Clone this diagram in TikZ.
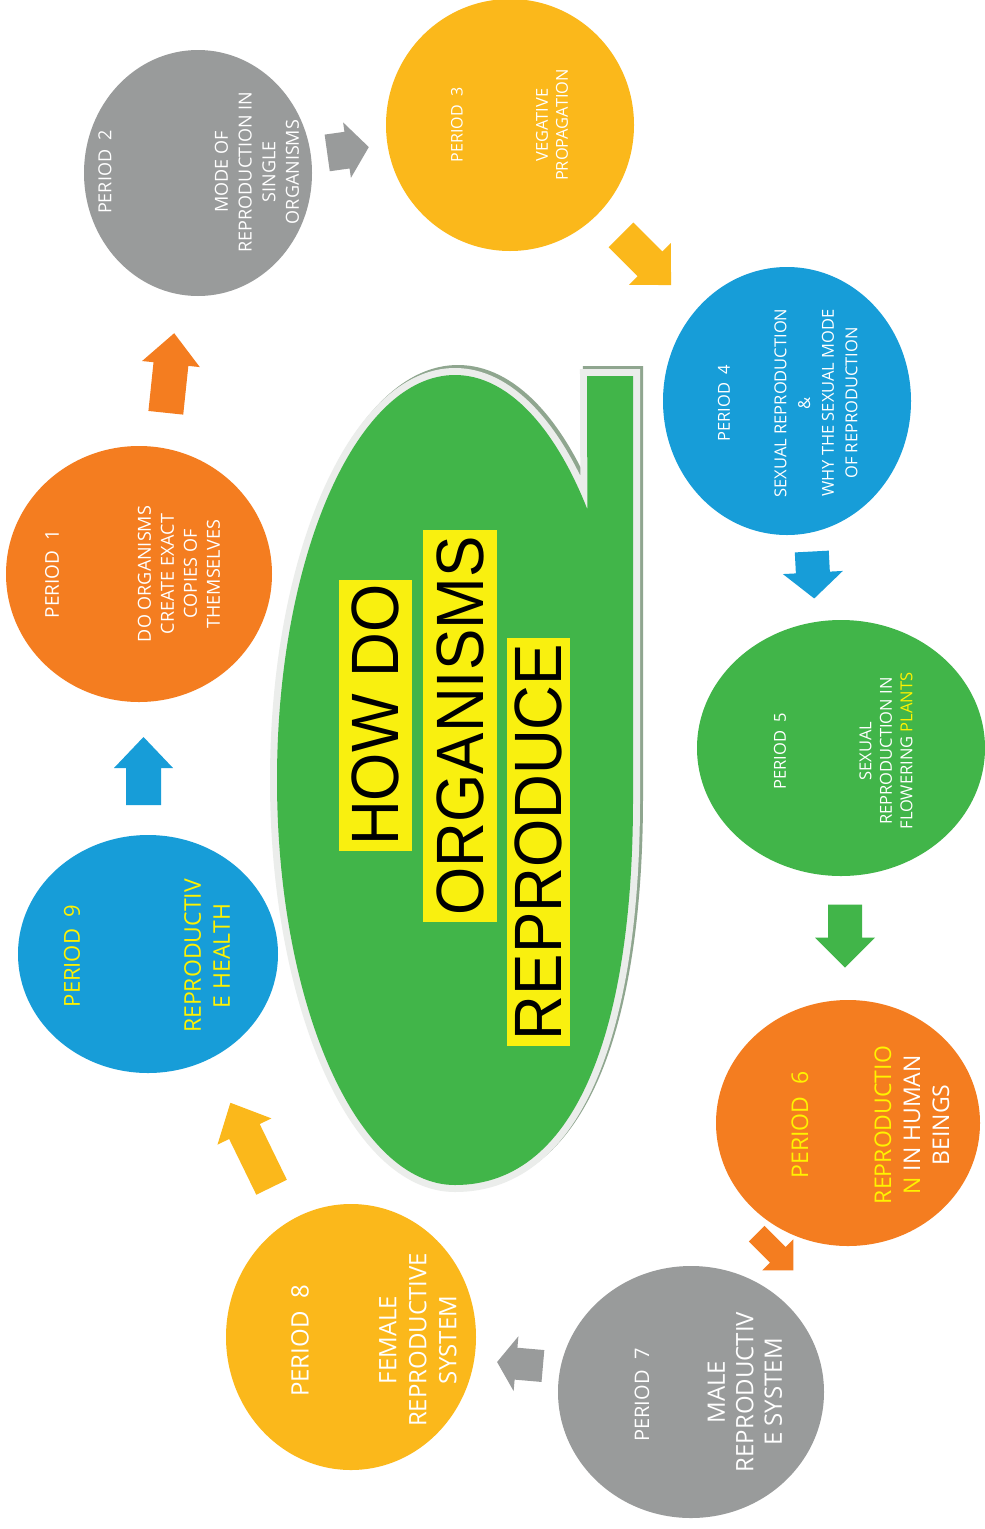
\documentclass[tikz,border=0pt]{standalone}
\usepackage{fontspec}
\usepackage{graphicx}
\usetikzlibrary{shapes.geometric}
\newfontfamily\osans{Open Sans}
\newfontfamily\tfont{Liberation Sans}
\definecolor{corange}{HTML}{F47D20}
\definecolor{cgray}{HTML}{999B9B}
\definecolor{camber}{HTML}{FBB81B}
\definecolor{cblue}{HTML}{179DD8}
\definecolor{cgreen}{HTML}{41B549}
\definecolor{ytext}{HTML}{FFF200}
\definecolor{tyellow}{HTML}{F9F00F}
\definecolor{bordergray}{HTML}{EBEDEB}
\definecolor{shadowc}{HTML}{8FA68F}
\newcommand{\blockarrow}[8]{%
  \begin{scope}[shift={(#2,#3)},rotate=#4,x=1pt,y=1pt]
    \fill[#1] ({-(#5)/2},{-(#6)/2}) -- ({(#5)/2-(#8)},{-(#6)/2}) -- ({(#5)/2-(#8)},{-(#7)/2}) -- ({(#5)/2},0) -- ({(#5)/2-(#8)},{(#7)/2}) -- ({(#5)/2-(#8)},{(#6)/2}) -- ({-(#5)/2},{(#6)/2}) -- cycle;
  \end{scope}}
\newcommand{\bubble}[1]{%
  \path[#1] (587.4,509.4) -- (587,376) -- (633,376) -- (633,800)
    .. controls (633,1020) and (580,1185) .. (455,1185)
    .. controls (357,1185) and (277,1004) .. (277,780)
    .. controls (277,556) and (357,375) .. (455,375)
    .. controls (507.6,375) and (554.8,426.9) .. (587.4,509.4) -- cycle;}
\begin{document}
\begin{tikzpicture}[x=1pt,y=-1pt,
  circ/.style={ellipse, inner sep=0pt, outer sep=0pt},
  ctext/.style={rotate=90, align=center, inner sep=0pt, text=white},
  title/.style={rotate=90, fill=tyellow, inner sep=0pt, text=black, font=\fontsize{62}{62}\selectfont\tfont}]
\useasboundingbox (0,0) rectangle (985,1529);
\fill[white] (0,0) rectangle (985,1529);
% central bubble
\bubble{draw=shadowc, line width=14pt, line join=miter, shift={(3,-3)}}
\bubble{draw=bordergray, line width=14pt, line join=miter}
\bubble{fill=cgreen}
\node[title, minimum width=271pt, minimum height=73pt] (t1) at (375,715) {\scalebox{1}[1.08]{HOW DO}};
\node[title, minimum width=392pt, minimum height=74pt] (t2) at (460,726) {\scalebox{1}[1.08]{ORGANISMS}};
\node[title, minimum width=408pt, minimum height=63pt] (t3) at (538,842) {\scalebox{1}[1.08]{REPRODUCE}};
% circles
\node[circ, fill=corange, minimum width=266pt, minimum height=256pt] (c1) at (139,574) {};
\node[circ, fill=cgray, minimum width=228pt, minimum height=246pt] (c2) at (198,173) {};
\node[circ, fill=camber, minimum width=248pt, minimum height=252pt] (c3) at (510,125) {};
\node[circ, fill=cblue, minimum width=248pt, minimum height=268pt] (c4) at (787,401) {};
\node[circ, fill=cgreen, minimum width=288pt, minimum height=256pt] (c5) at (841,748) {};
\node[circ, fill=corange, minimum width=264pt, minimum height=246pt] (c6) at (848,1123) {};
\node[circ, fill=cgray, minimum width=266pt, minimum height=252pt] (c7) at (691,1392) {};
\node[circ, fill=camber, minimum width=250pt, minimum height=266pt] (c8) at (351,1337) {};
\node[circ, fill=cblue, minimum width=260pt, minimum height=238pt] (c9) at (148,954) {};
% texts
\node[ctext, font=\fontsize{19}{23}\selectfont\osans] (p1) at (52,574) {PERIOD\ \ 1};
\node[ctext, font=\fontsize{18}{23}\selectfont\osans] (d1) at (179,574) {DO ORGANISMS\\CREATE EXACT\\COPIES OF\\THEMSELVES};
\node[ctext, font=\fontsize{18}{23}\selectfont\osans] (p2) at (105,172) {PERIOD\ \ 2};
\node[ctext, font=\fontsize{18}{23.7}\selectfont\osans] (d2) at (257,172) {MODE OF\\REPRODUCTION IN\\SINGLE\\ORGANISMS};
\node[ctext, font=\fontsize{16}{20}\selectfont\osans] (p3) at (457,125) {PERIOD\ \ 3};
\node[ctext, font=\fontsize{16.4}{20}\selectfont\osans] (d3) at (552,125) {VEGATIVE\\PROPAGATION};
\node[ctext, font=\fontsize{16.5}{20}\selectfont\osans] (p4) at (724,403) {PERIOD\ \ 4};
\node[ctext, font=\fontsize{16.5}{23.7}\selectfont\osans] (d4) at (816,403) {SEXUAL REPRODUCTION\\\&\\WHY THE SEXUAL MODE\\OF REPRODUCTION};
\node[ctext, font=\fontsize{16.5}{20}\selectfont\osans] (p5) at (780,751) {PERIOD\ \ 5};
\node[ctext, font=\fontsize{16.5}{20.5}\selectfont\osans] (d5) at (886,751) {SEXUAL\\REPRODUCTION IN\\FLOWERING {\color{ytext}PLANTS}};
\node[ctext, text=ytext, font=\fontsize{23}{29}\selectfont\osans] (p6) at (800,1125) {PERIOD\ \ 6};
\node[ctext, font=\fontsize{23}{29}\selectfont\osans] (d6) at (912,1125) {{\color{ytext}REPRODUCTIO}\\{\color{ytext}N} IN HUMAN\\BEINGS};
\node[ctext, font=\fontsize{20}{24}\selectfont\osans] (p7) at (642,1395) {PERIOD\ \ 7};
\node[ctext, font=\fontsize{24}{28.5}\selectfont\osans] (d7) at (745,1392) {MALE\\REPRODUCTIV\\E SYSTEM};
\node[ctext, font=\fontsize{24}{30}\selectfont\osans] (p8) at (300,1341) {PERIOD\ \ 8};
\node[ctext, font=\fontsize{24}{30}\selectfont\osans] (d8) at (418,1340) {FEMALE\\REPRODUCTIVE\\SYSTEM};
\node[ctext, text=ytext, font=\fontsize{22}{29}\selectfont\osans] (p9) at (72,956) {PERIOD\ \ 9};
\node[ctext, text=ytext, font=\fontsize{23}{29}\selectfont\osans] (d9) at (207,956) {REPRODUCTIV\\E HEALTH};
% block arrows
\blockarrow{corange}{170}{373}{84}{80}{35}{58}{31}
\blockarrow{cgray}{348}{150}{8}{42}{37}{56}{22}
\blockarrow{camber}{646}{260}{-45}{71}{35}{59}{30}
\blockarrow{cblue}{813}{575}{-87}{47}{34}{60}{26}
\blockarrow{cgreen}{845}{936}{-90}{63}{34}{60}{30}
\blockarrow{corange}{775}{1252}{-45}{52}{22}{44}{22}
\blockarrow{cgray}{520}{1364}{175}{46}{32}{55}{19}
\blockarrow{camber}{251}{1145}{116}{94}{34}{60}{32}
\blockarrow{cblue}{143.5}{771}{90}{68}{35}{59}{31}
\end{tikzpicture}
\end{document}
